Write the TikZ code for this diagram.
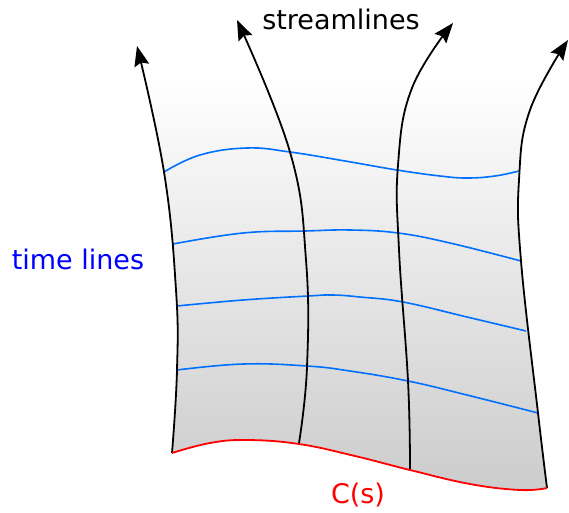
\documentclass[tikz,border=0pt]{standalone}
\usepackage{fontspec}
\setmainfont{DejaVu Sans}
\usetikzlibrary{arrows.meta}

\definecolor{timeblue}{RGB}{0,112,255}
\definecolor{surfgray}{RGB}{204,204,204}

% point lists of the curves (bottom to top for streamlines, left to right otherwise)
\def\curveC{(172,453) (210,443) (247,440) (299,444) (355,456) (410,470) (470,484) (520,490) (547,488)}
\def\slA{(172,453) (177,370) (176,290) (164,172) (137,46)}
\def\slAdown{(137,46) (164,172) (176,290) (177,370) (172,453)}
\def\slB{(299,443) (307,367) (306,260) (290,152) (237,20)}
\def\slC{(410,469) (408,381) (399,250) (398,165) (412,88) (453,23)}
\def\slD{(547,488) (538,413) (521,261) (519,180) (530,110) (568,40)}

\tikzset{
  stream/.style={line width=1.8pt, black, -{Stealth[length=20pt,width=15pt,inset=3pt]}},
  tline/.style={line width=1.6pt, timeblue},
  lbl/.style={inner sep=0pt, anchor=base, font=\fontsize{27}{32}\selectfont},
  sm/.style={smooth, tension=0.7},
}

\begin{document}
\begin{tikzpicture}[x=1pt, y=-1pt]
  \useasboundingbox (0,0) rectangle (569,512);

  % shaded surface swept by the curve
  \begin{scope}
    \clip plot[sm] coordinates {\curveC}
      -- plot[sm] coordinates {\slD}
      -- plot[sm] coordinates {\slAdown} -- cycle;
    \fill[top color=white, bottom color=surfgray] (100,75) rectangle (580,490);
    \fill[surfgray] (100,489) rectangle (580,500);
  \end{scope}

  % time lines
  \draw[tline] plot[sm] coordinates {(164,172) (200,155) (247,148) (290,152) (345,161) (397,170) (440,176) (467,178) (495,176) (519,171)};
  \draw[tline] plot[sm] coordinates {(173,244) (243,233) (305,231) (350,230) (398,233) (450,243) (521,261)};
  \draw[tline] plot[sm] coordinates {(177,306) (243,300) (308,296) (333,295) (360,297) (403,302) (467,317) (526,331)};
  \draw[tline] plot[sm] coordinates {(177,370) (243,364) (307,366) (350,371) (408,381) (467,395) (538,413)};

  % streamlines
  \draw[stream] plot[sm] coordinates {\slA};
  \draw[stream] plot[sm] coordinates {\slB};
  \draw[stream] plot[sm] coordinates {\slC};
  \draw[stream] plot[sm] coordinates {\slD};

  % initial curve
  \draw[red, line width=1.8pt] plot[sm] coordinates {\curveC};

  % labels
  \node[lbl] (streamlbl) at (341,29) {streamlines};
  \node[lbl, blue] (timelbl) at (78,269) {time lines};
  \node[lbl, red] (curvelbl) at (358,503) {C(s)};
\end{tikzpicture}
\end{document}
